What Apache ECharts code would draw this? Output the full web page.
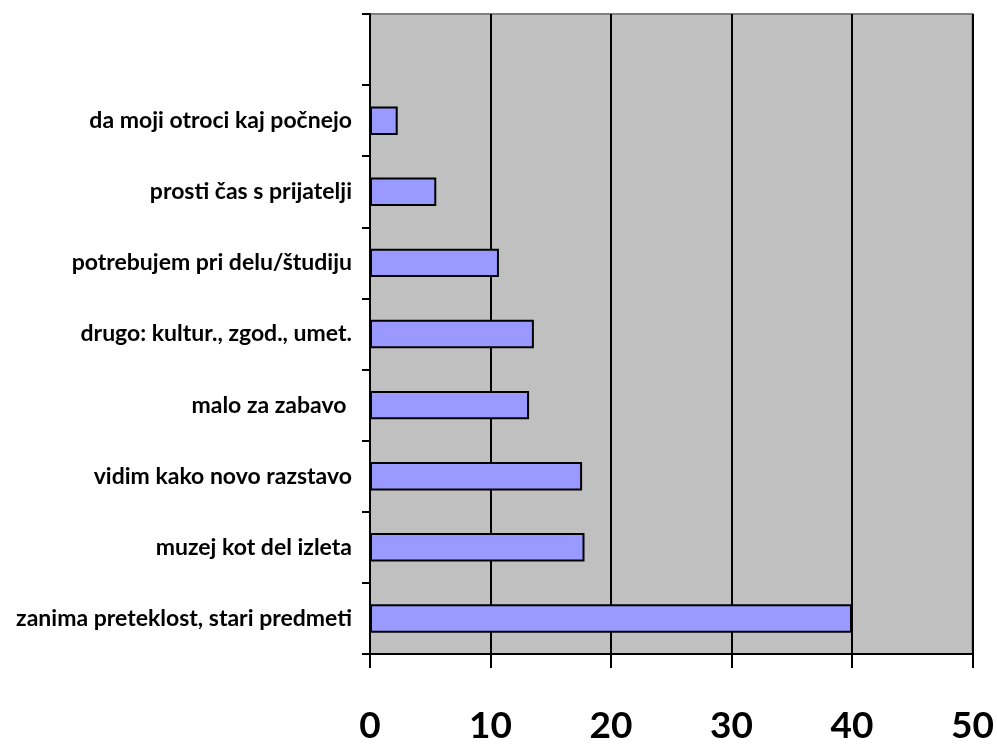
<!DOCTYPE html>
<html>
<head>
<meta charset="utf-8">
<script src="https://cdn.jsdelivr.net/npm/echarts@6/dist/echarts.min.js"></script>
<style>
  html, body { margin: 0; padding: 0; background: #fff; }
  #chart { width: 997px; height: 745px; }
</style>
</head>
<body>
<div id="chart"></div>
<script>
// kategorije od spodaj navzgor (zgornje mesto je prazno)
const categories = [
  "zanima preteklost, stari predmeti",
  "muzej kot del izleta",
  "vidim kako novo razstavo",
  "malo za zabavo ",
  "drugo: kultur., zgod., umet.",
  "potrebujem pri delu/študiju",
  "prosti čas s prijatelji",
  "da moji otroci kaj počnejo",
  ""
];
const values = [40, 17.8, 17.6, 13.2, 13.6, 10.7, 5.5, 2.3, null];
const xTicks = [0, 10, 20, 30, 40, 50];

const myChart = echarts.init(document.getElementById("chart"));

const option = {
  animation: false,
  grid: {
    left: 370,
    right: 24,
    top: 14,
    bottom: 88,
    show: true,
    backgroundColor: "#C0C0C0",
    borderColor: "#808080",
    borderWidth: 2
  },
  xAxis: {
    type: "value",
    min: xTicks[0],
    max: xTicks[xTicks.length - 1],
    interval: 10,
    axisLine: { show: true, lineStyle: { color: "#000", width: 2 } },
    axisTick: { show: true, length: 14, lineStyle: { color: "#000", width: 2 } },
    splitLine: { show: true, lineStyle: { color: "#000", width: 2 } },
    axisLabel: {
      margin: 54,
      fontFamily: "Lato",
      fontWeight: "bold",
      fontSize: 37,
      color: "#000"
    }
  },
  yAxis: {
    type: "category",
    data: categories,
    axisLine: { show: true, lineStyle: { color: "#000", width: 2 } },
    axisTick: { show: true, length: 8, alignWithLabel: false, lineStyle: { color: "#000", width: 2 } },
    splitLine: { show: false },
    axisLabel: {
      margin: 18,
      fontFamily: "Lato",
      fontWeight: "bold",
      fontSize: 23,
      color: "#000"
    }
  },
  series: [
    {
      type: "bar",
      data: values,
      barWidth: "40%",
      itemStyle: {
        color: "#9999FF",
        borderColor: "#000",
        borderWidth: 2
      }
    }
  ]
};

myChart.setOption(option);
window.onresize = function () {
  myChart.resize();
};
</script>
</body>
</html>
